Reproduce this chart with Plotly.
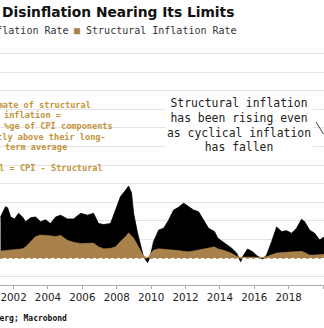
import plotly.graph_objects as go

# ---- data ----
years = [2001.24, 2001.53, 2001.65, 2001.83, 2002.06, 2002.29, 2002.52, 2002.70, 2002.99,
         2003.28, 2003.57, 2003.86, 2004.15, 2004.44, 2004.73, 2005.14, 2005.49, 2005.90,
         2006.30, 2006.65, 2006.94, 2007.24, 2007.64, 2007.93, 2008.22, 2008.52, 2008.69,
         2008.86, 2008.98, 2009.21, 2009.39, 2009.56, 2009.80, 2009.97, 2010.14, 2010.44,
         2010.73, 2011.02, 2011.31, 2011.60, 2011.89, 2012.18, 2012.47, 2012.76, 2013.05,
         2013.34, 2013.69, 2013.87, 2014.27, 2014.68, 2014.97, 2015.21, 2015.32, 2015.61,
         2015.90, 2016.19, 2016.49, 2016.72, 2017.01, 2017.30, 2017.59, 2017.88, 2018.17,
         2018.46, 2018.75, 2018.93, 2019.22, 2019.51, 2019.80, 2020.09]
headline = [2.2, 2.76, 2.7, 2.2, 2.1, 2.4, 2.2, 1.95, 2.17,
            2.2, 1.95, 2.05, 1.85, 2.2, 2.3, 2.1, 2.1, 2.4,
            2.3, 2.4, 1.85, 1.8, 1.85, 2.58, 3.3, 3.65, 3.87,
            3.5, 2.4, 1.34, 0.6, 0.05, -0.25, 0.16, 0.88, 1.5,
            1.6, 2.04, 2.58, 2.73, 2.95, 2.76, 2.58, 2.49, 2.04,
            1.6, 1.42, 1.07, 0.8, 0.53, 0.27, -0.2, 0.07, 0.48,
            0.34, 0.1, -0.05, 0.16, 0.88, 1.67, 1.42, 1.47, 1.33,
            1.6, 2.08, 1.95, 1.5, 1.33, 0.97, 1.15]
structural = [0.37, 0.40, 0.43, 0.44, 0.46, 0.48, 0.50, 0.6, 0.85,
              1.15, 1.24, 1.24, 1.20, 1.15, 1.22, 0.95, 0.85, 0.78,
              0.8, 0.8, 0.6, 0.5, 0.52, 0.6, 0.9, 1.15, 1.36,
              1.2, 1.07, 0.7, 0.43, 0.1, 0.02, 0.2, 0.43, 0.5,
              0.48, 0.46, 0.45, 0.4, 0.36, 0.34, 0.38, 0.43, 0.48,
              0.53, 0.6, 0.5, 0.4, 0.25, 0.1, 0.03, 0.05, 0.05,
              0.05, 0.04, 0.03, 0.08, 0.16, 0.27, 0.29, 0.3, 0.33,
              0.34, 0.36, 0.3, 0.16, 0.16, 0.17, 0.2]
tick_years = [2002, 2004, 2006, 2008, 2010, 2012, 2014, 2016, 2018, 2020]
tick_labels = [str(y) for y in tick_years]

W, H = 324, 328
TOP, BOT = 45, 285  # plot area in px


def px(xp):
    return xp / W


def py(yp):
    return (BOT - yp) / (BOT - TOP)


BLACK = "#000000"
TAN = "#a9814b"
ORANGE = "#c4933a"
MONO = "DejaVu Sans Mono"

fig = go.Figure()
fig.add_trace(go.Scatter(x=years, y=headline, mode="lines", fill="tozeroy",
                         line=dict(color=BLACK, width=0.8), fillcolor=BLACK,
                         name="Cyclical Inflation Rate", showlegend=False, hoverinfo="skip"))
fig.add_trace(go.Scatter(x=years, y=structural, mode="lines", fill="tozeroy",
                         line=dict(color=TAN, width=0.5), fillcolor=TAN,
                         name="Structural Inflation Rate", showlegend=False, hoverinfo="skip"))

shapes = [
    dict(type="rect", xref="paper", yref="paper", x0=-0.5, x1=px(118), y0=py(189), y1=py(86),
         fillcolor="white", line=dict(width=0), layer="between"),
    dict(type="line", xref="paper", yref="y", x0=0, x1=1, y0=0, y1=0,
         line=dict(color=TAN, width=1.5, dash="dot"), layer="above"),
    dict(type="line", xref="paper", yref="paper", x0=px(316), y0=py(122), x1=px(323.5), y1=py(134),
         line=dict(color="#444", width=1)),
]

ann = []
ann.append(dict(text="<b>Disinflation Nearing Its Limits</b>", xref="paper", yref="paper",
                x=px(236), y=py(12), xanchor="right", yanchor="middle", showarrow=False,
                font=dict(family="DejaVu Sans", size=13.8, color="#111")))
ann.append(dict(text="<span style='color:#000'>■</span> Cyclical Inflation Rate",
                xref="paper", yref="paper", x=px(71), y=py(30), xanchor="right", yanchor="middle",
                showarrow=False, font=dict(family=MONO, size=10, color="#333")))
ann.append(dict(text=f"<span style='color:{TAN}'>■</span> Structural Inflation Rate",
                xref="paper", yref="paper", x=px(72), y=py(30), xanchor="left", yanchor="middle",
                showarrow=False, font=dict(family=MONO, size=10, color="#333")))

left_lines = [("Estimate of structural", 93, 105), ("inflation =", 63, 115),
              ("the = %ge of CPI components", 115, 126), ("currently above their long-", 108, 137),
              ("term average", 69, 147), ("Cyclical = CPI - Structural", 105, 168)]
for t, xr, yc in left_lines:
    ann.append(dict(text=f"<b>{t}</b>", xref="paper", yref="paper", x=px(xr), y=py(yc),
                    xanchor="right", yanchor="middle", showarrow=False,
                    font=dict(family=MONO, size=8.6, color=ORANGE)))

ann.append(dict(text="Structural inflation<br>has been rising even<br>as cyclical inflation<br>has fallen",
                xref="paper", yref="paper", x=px(239.5), y=py(125), xanchor="center", yanchor="middle",
                align="center", showarrow=False, bgcolor="white",
                font=dict(family=MONO, size=11.4, color="#222")))

ann.append(dict(text="<b>Source: Bloomberg; Macrobond</b>", xref="paper", yref="paper",
                x=px(69), y=py(318), xanchor="right", yanchor="middle", showarrow=False,
                font=dict(family=MONO, size=8, color="#111")))

fig.update_layout(
    width=W, height=H, margin=dict(l=0, r=0, t=TOP, b=H - BOT),
    paper_bgcolor="white", plot_bgcolor="white",
    shapes=shapes, annotations=ann, showlegend=False,
    xaxis=dict(range=[2001.209, 2020.057], tickvals=tick_years, ticktext=tick_labels,
               showgrid=False, zeroline=False, showline=True, linecolor="#aaa", linewidth=1,
               ticks="outside", ticklen=3, tickcolor="#aaa", automargin=False,
               tickfont=dict(family="DejaVu Sans", size=10.3, color="#222")),
    yaxis=dict(range=[-1.452, 11.452], dtick=1, tick0=0, showgrid=True, gridcolor="#e3e3e3",
               gridwidth=1, zeroline=False, showticklabels=False, fixedrange=True),
)

fig.write_html("out.html")
